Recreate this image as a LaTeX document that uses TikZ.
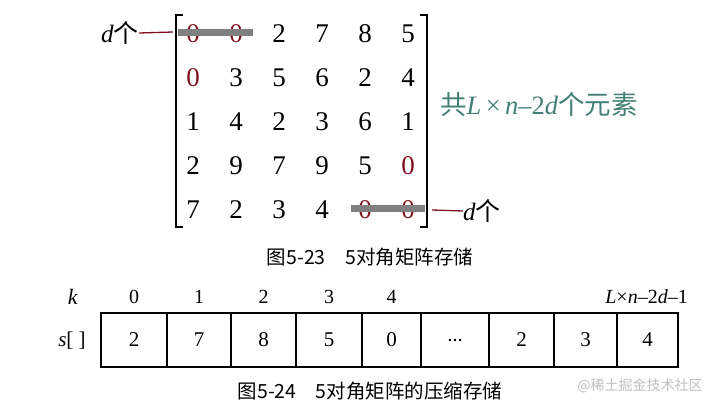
\documentclass[tikz,border=0pt]{standalone}
\usepackage{fontspec}
\setmainfont{Liberation Serif}
\newfontfamily\cjk{Noto Sans CJK SC}
\usepackage{tikz}
\usetikzlibrary{positioning}
\definecolor{zeroRed}{RGB}{128,16,32}
\definecolor{noteTeal}{RGB}{66,128,118}
\definecolor{barGray}{RGB}{128,128,128}
\newcommand{\CellDots}{{\fontsize{15}{15}\selectfont\bfseries …}}
\tikzset{
  num/.style={inner sep=0pt, text height=18pt, text depth=0pt, font=\fontsize{27}{27}\selectfont},
  zred/.style={num, text=zeroRed},          % zero entries
  strike/.style={draw=barGray, line width=7pt},
  bracket/.style={draw, line width=1.4pt},
  dline/.style={draw=zeroRed, line width=1.3pt},
  cell/.style={draw, line width=1.3pt, minimum height=54pt, inner sep=0pt, font=\fontsize{21}{21}\selectfont},
  idx/.style={inner sep=0pt, font=\fontsize{20}{20}\selectfont},
  caption/.style={inner sep=0pt, font=\cjk\fontsize{19.5}{19.5}\selectfont}
}
\begin{document}
\begin{tikzpicture}[x=1pt,y=-1pt]
  \useasboundingbox (0,0) rectangle (721,407);
  % matrix entries
  \foreach \row [count=\r] in {{0/zred,0/zred,2/num,7/num,8/num,5/num},
                               {0/zred,3/num,5/num,6/num,2/num,4/num},
                               {1/num,4/num,2/num,3/num,6/num,1/num},
                               {2/num,9/num,7/num,9/num,5/num,0/zred},
                               {7/num,2/num,3/num,4/num,0/zred,0/zred}}{
    \foreach \v/\s [count=\c] in \row
      \node[\s] (m-\r-\c) at ({150+43*\c},{-11+44*\r}) {\v};
  }
  % brackets
  \coordinate (lbT) at (176,15);
  \coordinate (lbB) at (176,227);
  \coordinate (rbT) at (427,15);
  \coordinate (rbB) at (427,227);
  \draw[bracket] ([xshift=7pt]lbT) -- (lbT) -- (lbB) -- ([xshift=7pt]lbB);
  \draw[bracket] ([xshift=-7pt]rbT) -- (rbT) -- (rbB) -- ([xshift=-7pt]rbB);
  % struck out zeros
  \draw[strike] ([xshift=-15pt,yshift=1pt]m-1-1.center) -- ([xshift=17pt,yshift=1pt]m-1-2.center);
  \draw[strike] ([xshift=-14pt,yshift=1pt]m-5-5.center) -- ([xshift=17pt,yshift=1pt]m-5-6.center);
  % d labels
  \node[inner sep=0pt, font=\fontsize{25}{25}\selectfont, anchor=east] (dT) at (139,33) {\textit{d}{\cjk 个}};
  \coordinate (lbD) at (173,32);
  \draw[dline] (dT.east) -- (lbD);
  \coordinate (rbD) at (432,210);
  \node[inner sep=0pt, font=\fontsize{25}{25}\selectfont, anchor=west] (dB) at (463,211) {\textit{d}{\cjk 个}};
  \draw[dline] (rbD) -- (dB.west);
  % element count note
  \node[inner sep=0pt, text=noteTeal, font=\fontsize{26.5}{26.5}\selectfont, anchor=west] (note) at (440,104)
    {{\cjk 共}\textit{L}\,×\,\textit{n}–2\textit{d}{\cjk 个元素}};
  \node[caption] (cap1) at (370,257) {图5-23\hspace{1em}5对角矩阵存储};
  % compressed array
  \node[idx, font=\fontsize{22}{22}\selectfont] (k) at (73,297) {\textit{k}};
  \node[idx, font=\fontsize{21}{21}\selectfont] (s) at (72,341) {\textit{s}[ ]};
  \foreach \v/\xa/\xb [count=\i from 0] in {2/101/167,7/167/231,8/231/296,5/296/362,0/362/421,
                                          \CellDots/421/489,2/489/554,3/554/617,4/617/678}{
    \pgfmathsetmacro{\cw}{\xb-\xa}
    \pgfmathsetmacro{\cx}{(\xa+\xb)/2}
    \node[cell, minimum width=\cw pt] (c\i) at (\cx,340) {\v};
  }
  \foreach \i in {0,...,4}
    \node[idx] (i\i) at ([yshift=43pt]c\i.center) {\i};
  \node[idx, anchor=east] (ilast) at (688,297) {\textit{L}×\textit{n}–2\textit{d}–1};
  \node[caption] (cap2) at (370,391) {图5-24\hspace{1em}5对角矩阵的压缩存储};
  \node[inner sep=0pt, text=black!25, font=\cjk\fontsize{14}{14}\selectfont] (wm) at (640,386) {@稀土掘金技术社区};
\end{tikzpicture}
\end{document}
